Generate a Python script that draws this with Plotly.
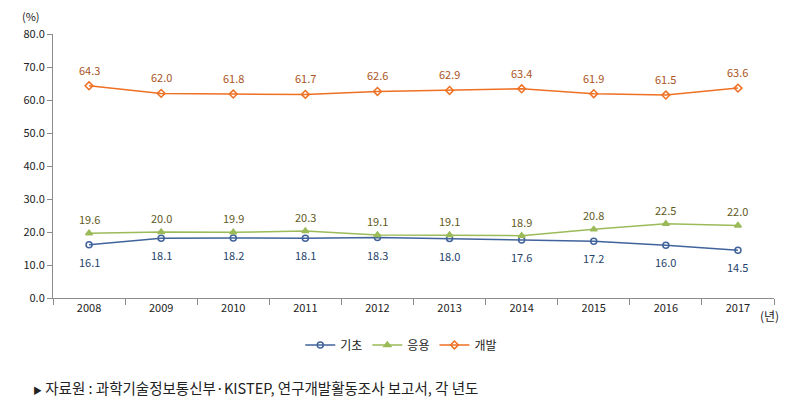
import plotly.graph_objects as go

years = ["2008", "2009", "2010", "2011", "2012", "2013", "2014", "2015", "2016", "2017"]
basic = [16.1, 18.1, 18.2, 18.1, 18.3, 18.0, 17.6, 17.2, 16.0, 14.5]
applied = [19.6, 20.0, 19.9, 20.3, 19.1, 19.1, 18.9, 20.8, 22.5, 22.0]
development = [64.3, 62.0, 61.8, 61.7, 62.6, 62.9, 63.4, 61.9, 61.5, 63.6]
y_ticks = [0, 10, 20, 30, 40, 50, 60, 70, 80]

FONT = "Noto Sans CJK KR, Noto Sans, sans-serif"

# name, values, line colour, marker, label shift (px), label colour
series = [
    ("기초", basic, "#41639c", "circle-open", -17, "#243f6b"),
    ("응용", applied, "#9bbb59", "triangle-up", 14, "#5f5a1c"),
    ("개발", development, "#ee7023", "diamond-open", 16, "#a9541d"),
]

fig = go.Figure()
for name, vals, color, symbol, shift, tcolor in series:
    fig.add_trace(go.Scatter(
        x=years, y=vals, name=name, mode="lines+markers",
        line=dict(color=color, width=1.5),
        marker=dict(symbol=symbol, size=6, color=color,
                    line=dict(color=color, width=1.5)),
    ))
    # data labels; category axis -> position by index
    for i, v in enumerate(vals):
        fig.add_annotation(x=i, y=v, text=f"{v:.1f}", showarrow=False,
                           yshift=shift, xanchor="center", yanchor="middle",
                           font=dict(size=11, color=tcolor, family=FONT))

# page body has an 8px margin, so offsets are pulled in by 8px
fig.update_layout(
    width=795, height=411,
    margin=dict(l=45, r=29, t=26, b=121, autoexpand=False),
    plot_bgcolor="white", paper_bgcolor="white",
    font=dict(family=FONT, size=11, color="#222"),
    showlegend=True,
    legend=dict(orientation="h", x=0.483, xanchor="center", y=-0.178,
                yanchor="middle", font=dict(size=12, color="#222"),
                itemwidth=30, tracegroupgap=0),
    xaxis=dict(type="category", range=[-0.5, 9.5], showline=True,
               linecolor="#8c8c8c", linewidth=1, ticks="outside",
               tickson="boundaries", ticklen=6, tickcolor="#8c8c8c",
               tickfont=dict(size=11, color="#222"), showgrid=False),
    yaxis=dict(range=[0, 80], tickvals=y_ticks,
               ticktext=[f"{v:.1f}" for v in y_ticks], showline=True,
               linecolor="#8c8c8c", linewidth=1, ticks="outside", ticklen=5,
               tickcolor="#8c8c8c", showgrid=False, zeroline=False,
               tickfont=dict(size=11, color="#222")),
)

fig.add_annotation(text="(%)", xref="paper", yref="paper", x=-0.031, y=1.068,
                   xanchor="center", yanchor="middle", showarrow=False,
                   font=dict(size=11, color="#222"))
fig.add_annotation(text="(년)", xref="paper", yref="paper", x=0.994, y=-0.068,
                   xanchor="center", yanchor="middle", showarrow=False,
                   font=dict(size=12, color="#222"))
fig.add_annotation(text="<span style='font-size:9px'>▶</span> 자료원 : 과학기술정보통신부·KISTEP, 연구개발활동조사 보고서, 각 년도",
                   xref="paper", yref="paper", x=-0.031, y=-0.34,
                   xanchor="left", yanchor="middle", showarrow=False,
                   font=dict(size=14.5, color="#222"))

fig.write_html("out.html")
